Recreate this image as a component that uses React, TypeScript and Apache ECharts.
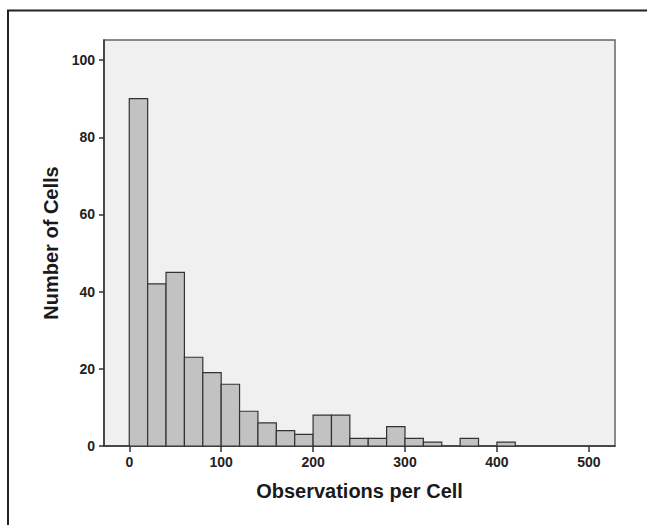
import React, { useEffect, useRef } from "react";
import * as echarts from "echarts";

const binWidth = 20;
const binStarts = [0, 20, 40, 60, 80, 100, 120, 140, 160, 180, 200, 220, 240, 260, 280, 300, 320, 340, 360, 380, 400];
const counts = [90, 42, 45, 23, 19, 16, 9, 6, 4, 3, 8, 8, 2, 2, 5, 2, 1, 0, 2, 0, 1];
const xTicks = [0, 100, 200, 300, 400, 500];
const yTicks = [0, 20, 40, 60, 80, 100];
const xTitle = "Observations per Cell";
const yTitle = "Number of Cells";

const FONT = "'Liberation Sans', Arial, sans-serif";

export default function App() {
  const ref = useRef<HTMLDivElement>(null);
  useEffect(() => {
    if (!ref.current) return;
    const chart = echarts.init(ref.current, undefined, { renderer: "svg" });
    const data = binStarts.map((s, i) => [s, counts[i]]);
    chart.setOption({
      animation: false,
      backgroundColor: "#ffffff",
      grid: {
        left: 104,
        top: 40,
        right: 32,
        bottom: 79,
        show: true,
        backgroundColor: "#f0f0f0",
        borderColor: "#666666",
        borderWidth: 1.5,
      },
      graphic: [
        {
          type: "rect",
          shape: { x: 8, y: 10.5, width: 700, height: 600 },
          style: { fill: "none", stroke: "#222222", lineWidth: 2 },
          silent: true,
        },
      ],
      xAxis: {
        type: "value",
        min: -27.5,
        max: 528.5,
        name: xTitle,
        nameLocation: "middle",
        nameGap: 35,
        nameTextStyle: { fontFamily: FONT, fontWeight: "bold", fontSize: 20, color: "#1a1a1a" },
        axisLine: { show: true, onZero: false, lineStyle: { color: "#333333", width: 1.5 } },
        axisTick: { show: true, length: 6, customValues: xTicks, lineStyle: { color: "#333333", width: 1.5 } },
        axisLabel: {
          customValues: xTicks,
          margin: 9,
          fontFamily: FONT,
          fontWeight: "bold",
          fontSize: 14,
          color: "#222222",
        },
        splitLine: { show: false },
      },
      yAxis: {
        type: "value",
        min: 0,
        max: 105.2,
        name: yTitle,
        nameLocation: "middle",
        nameGap: 40,
        nameTextStyle: { fontFamily: FONT, fontWeight: "bold", fontSize: 20, color: "#1a1a1a" },
        axisLine: { show: true, onZero: false, lineStyle: { color: "#333333", width: 1.5 } },
        axisTick: { show: true, length: 5, customValues: yTicks, lineStyle: { color: "#333333", width: 1.5 } },
        axisLabel: {
          customValues: yTicks,
          margin: 9,
          fontFamily: FONT,
          fontWeight: "bold",
          fontSize: 14,
          color: "#222222",
        },
        splitLine: { show: false },
      },
      series: [
        {
          type: "custom",
          data,
          encode: { x: 0, y: 1 },
          renderItem: (params: any, api: any) => {
            const x0 = api.value(0);
            const h = api.value(1);
            if (!h) return null;
            const p0 = api.coord([x0, h]);
            const p1 = api.coord([x0 + binWidth, 0]);
            return {
              type: "rect",
              shape: { x: p0[0], y: p0[1], width: p1[0] - p0[0], height: p1[1] - p0[1] },
              style: { fill: "#c2c2c2", stroke: "#333333", lineWidth: 1.2 },
            };
          },
        },
      ],
    });
    return () => chart.dispose();
  }, []);
  return (
    <div
      ref={ref}
      style={{ position: "fixed", left: 0, top: 0, width: 647, height: 525, background: "#fff" }}
    />
  );
}
